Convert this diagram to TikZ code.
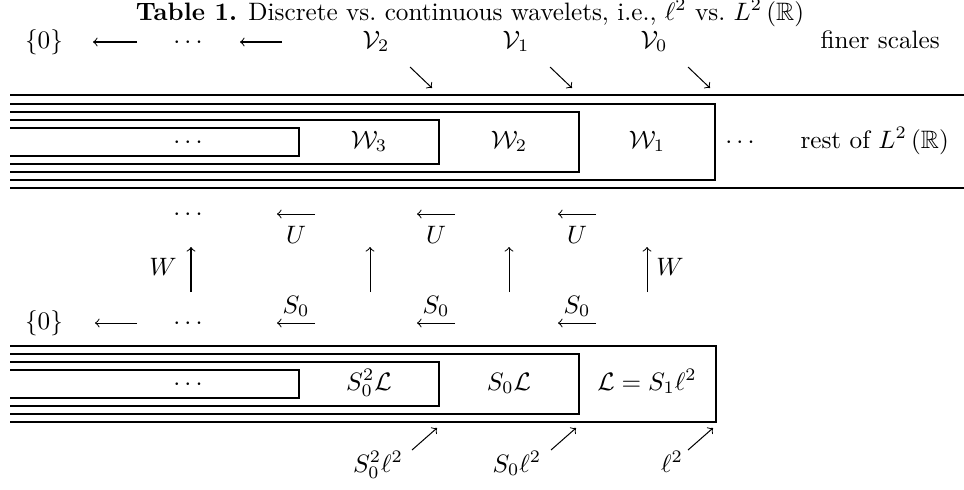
\documentclass[tikz,border=0pt]{standalone}
\usepackage{amssymb}
\begin{document}
\begin{tikzpicture}[x=.397pt,y=-.397pt,
  every node/.style={anchor=base,inner sep=0pt},
  wall/.style={line width=1.15pt},
  map/.style={->,line width=.4pt}]
  \useasboundingbox (0,0) rectangle (964,489);
  \node (title) at (470,20) {\textbf{Table 1.} Discrete vs.\ continuous wavelets, i.e., $\ell^{2}$ vs.\ $L^{2}\left(\mathbb{R}\right)$};
  % top row
  \node (zeroT) at (44,48) {$\{0\}$};
  \node (dotsT) at (188,48) {$\cdots$};
  \node (V2) at (376,48) {$\mathcal{V}_{2}$};
  \node (V1) at (516,48) {$\mathcal{V}_{1}$};
  \node (V0) at (654,48) {$\mathcal{V}_{0}$};
  \node[anchor=base west] (finer) at (820,48) {finer scales};
  \coordinate (t1) at (137,42);
  \coordinate (h1) at (93,42);
  \coordinate (t2) at (282,42);
  \coordinate (h2) at (240,42);
  \draw[map] (t1) -- (h1);
  \draw[map] (t2) -- (h2);
  \foreach \x/\n in {432/2,572/1,710/0}{
    \coordinate (c\n) at (\x,88);
    \draw[map] ([shift={(-22,-21)}]c\n) -- (c\n);
  }
  % nested W spaces
  \draw[wall] (10,95) -- (964,95);
  \draw[wall] (10,188) -- (964,188);
  \foreach \t/\b/\r in {104/180/715,112/172/579,120/164/439,128/156/299}
    \draw[wall] (10,\t) -| (\r,\b) -- (10,\b);
  \node (dotsW) at (188,148) {$\cdots$};
  \node (W3) at (369,148) {$\mathcal{W}_{3}$};
  \node (W2) at (509,148) {$\mathcal{W}_{2}$};
  \node (W1) at (647,148) {$\mathcal{W}_{1}$};
  \node (dotsR) at (740,148) {$\cdots$};
  \node[anchor=base west] (rest) at (800,148) {rest of $L^{2}\left(\mathbb{R}\right)$};
  % middle row
  \node (dotsM) at (188,220) {$\cdots$};
  \foreach \x/\n in {296/1,436/2,577/3}{
    \coordinate (ua\n) at (\x+19,214);
    \coordinate (ub\n) at (\x-19,214);
    \draw[map] (ua\n) -- (ub\n);
    \node (U\n) at (\x,243) {$U$};
  }
  \foreach \x/\n in {191/1,370/2,509/3,647/4}{
    \coordinate (lo\n) at (\x,292);
    \coordinate (hi\n) at (\x,247);
    \draw[map] (lo\n) -- (hi\n);
  }
  \node (Wl) at (163,275) {$W$};
  \node (Wr) at (670,275) {$W$};
  % S0 row
  \node (zeroS) at (44,329) {$\{0\}$};
  \node (dotsS) at (188,329) {$\cdots$};
  \coordinate (t3) at (137,323);
  \coordinate (h3) at (95,323);
  \draw[map] (t3) -- (h3);
  \foreach \x/\n in {296/1,436/2,577/3}{
    \coordinate (sa\n) at (\x+19,323);
    \coordinate (sb\n) at (\x-19,323);
    \draw[map] (sa\n) -- (sb\n);
    \node (S\n) at (\x,313) {$S_{0}$};
  }
  % nested L spaces
  \foreach \t/\b/\r in {346/422/716,354/414/579,362/406/439,370/398/299}
    \draw[wall] (10,\t) -| (\r,\b) -- (10,\b);
  \node (dotsL) at (188,390) {$\cdots$};
  \node (SSL) at (369,390) {$S_{0}^{2}\mathcal{L}$};
  \node (SL) at (509,390) {$S_{0}\mathcal{L}$};
  \node (L) at (647,390) {$\mathcal{L}=S_{1}\ell^{2}$};
  % bottom labels
  \node (SSl) at (378,472) {$S_{0}^{2}\ell^{2}$};
  \node (Sl) at (517,472) {$S_{0}\ell^{2}$};
  \node (l) at (672,472) {$\ell^{2}$};
  \foreach \x/\n in {437/1,576/2,713/3}{
    \coordinate (e\n) at (\x,428);
    \draw[map] ([shift={(-25,22)}]e\n) -- (e\n);
  }
\end{tikzpicture}
\end{document}
